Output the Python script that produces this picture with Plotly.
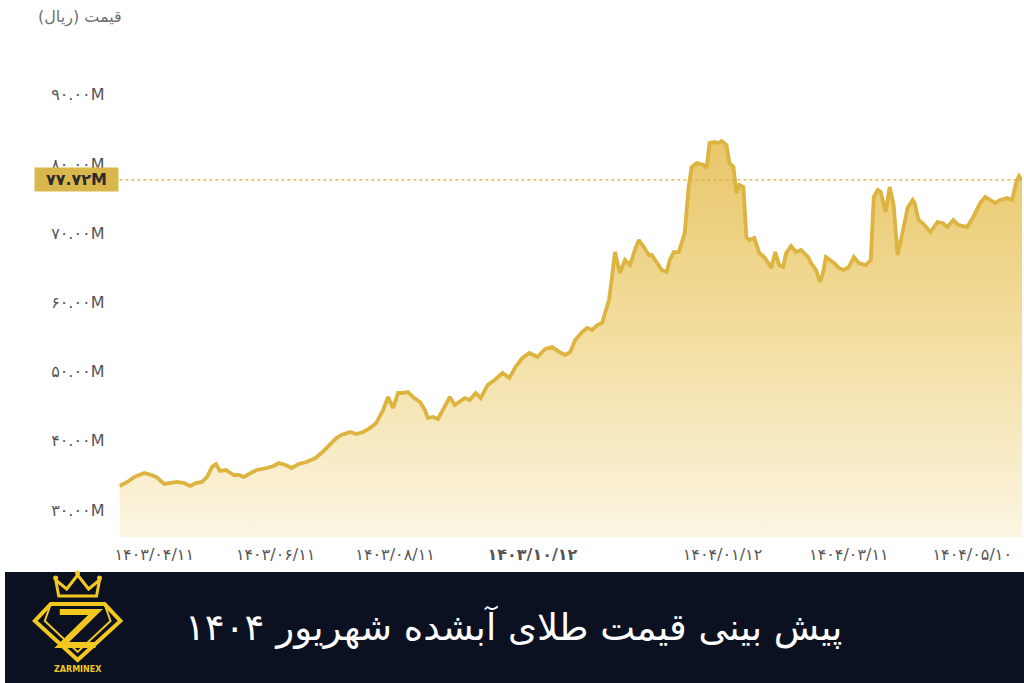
import plotly.graph_objects as go

# ---- data (price in million rials, x = position index along the time axis) ----
x_idx = [0, 4, 7.5, 12.5, 16, 18.5, 22.5, 26, 29, 32.5, 35.5, 38.5, 41.5, 44, 46.5, 48.5, 50.5, 53.5,
         56, 57.5, 60, 62.5, 66, 69, 74, 77.5, 80, 83.5, 86.5, 90, 94, 98.5, 101.5, 104, 106.5, 109,
         111.5, 116, 119, 122.5, 126, 129, 132.5, 135, 137.5, 140, 142.5, 145, 147.5, 151, 153.5, 155,
         157.5, 160, 162.5, 166, 168.5, 171, 173.5, 176, 179, 181.5, 185, 188.5, 192.5, 196, 199, 202.5,
         206, 210, 214, 217.5, 221, 224, 226.5, 229, 232.5, 235, 237.5, 240, 242.5, 244, 246, 247.5,
         249, 250.5, 251.5, 254, 256.5, 259, 261, 263.5, 266, 267.5, 270, 272.5, 275, 276.5, 278.5,
         281, 282.5, 284, 286, 287.5, 290, 293.5, 295, 296.5, 299, 301, 302.5, 305, 306.5, 308.5, 310,
         311.5, 313.5, 315, 316.5, 319, 321.5, 324, 326, 327.5, 329.5, 331.5, 333.5, 335, 337.5, 340,
         342.5, 344, 346, 347.5, 350, 352, 353.5, 355, 357, 359, 361.5, 364, 366.5, 369, 371.5, 375,
         377.5, 379, 381, 382.5, 385, 387, 389, 391, 393.5, 396, 398.5, 399.5, 401.5, 403.5, 407.5,
         411, 413.5, 416, 419, 421.5, 426, 429, 432.5, 435, 437.5, 440, 442.5, 446, 448.5, 450.5,
         452, 453.5]
price_m = [33.47, 34.05, 34.77, 35.35, 35.06, 34.77, 33.76, 33.90, 34.05, 33.90, 33.47, 33.90, 34.05,
           34.77, 36.21, 36.65, 35.64, 35.78, 35.35, 35.06, 35.06, 34.77, 35.35, 35.78, 36.07, 36.36,
           36.79, 36.50, 36.07, 36.65, 36.94, 37.51, 38.24, 38.96, 39.83, 40.40, 40.84, 41.27, 40.98,
           41.27, 41.85, 42.57, 44.45, 46.33, 44.74, 46.91, 46.91, 47.05, 46.33, 45.61, 44.45, 43.29,
           43.44, 43.15, 44.45, 46.33, 45.17, 45.61, 46.18, 45.90, 46.91, 46.18, 48.06, 48.79, 49.80,
           49.08, 50.66, 51.97, 52.69, 52.11, 53.27, 53.55, 52.83, 52.40, 52.83, 54.57, 55.72, 56.30,
           56.01, 56.73, 57.02, 58.47, 60.35, 63.67, 67.28, 65.40, 64.25, 66.13, 65.40, 67.57, 69.02,
           68.01, 66.85, 66.85, 65.69, 64.68, 64.39, 66.13, 67.28, 67.28, 68.60, 70.03, 76.68, 79.57,
           80.14, 79.86, 79.42, 83.03, 83.18, 83.03, 83.32, 82.75, 80.14, 79.57, 75.81, 76.97, 76.68,
           69.45, 69.02, 69.31, 67.14, 66.56, 65.69, 64.97, 67.28, 65.40, 65.12, 67.14, 68.15, 67.28,
           67.57, 67.14, 66.56, 65.69, 64.68, 62.95, 64.25, 66.56, 66.13, 65.69, 64.97, 64.68, 65.12,
           66.56, 65.69, 65.40, 66.13, 75.23, 76.24, 75.95, 73.06, 76.68, 74.08, 66.85, 70.17, 73.64,
           74.80, 74.36, 71.91, 71.47, 70.17, 71.62, 71.47, 70.90, 71.91, 71.18, 70.90, 72.34, 74.36,
           75.23, 74.80, 74.36, 74.80, 75.09, 74.80, 77.25, 78.27, 77.72]

last_price = 77.72
last_label = "۷۷.۷۲M"

x_tick_pos = [17.5, 78.5, 138.5, 207.5, 303, 366.5, 428.5]
x_tick_text = ["۱۴۰۳/۰۴/۱۱", "۱۴۰۳/۰۶/۱۱", "۱۴۰۳/۰۸/۱۱", "<b>۱۴۰۳/۱۰/۱۲</b>",
               "۱۴۰۴/۰۱/۱۲", "۱۴۰۴/۰۳/۱۱", "۱۴۰۴/۰۵/۱۰"]
y_tick_pos = [30, 40, 50, 60, 70, 80, 90]
y_tick_text = ["۳۰.۰۰M", "۴۰.۰۰M", "۵۰.۰۰M", "۶۰.۰۰M", "۷۰.۰۰M", "۸۰.۰۰M", "۹۰.۰۰M"]

y_title = "قیمت (ریال)\u200f"
banner_title = "پیش بینی قیمت طلای آبشده شهریور ۱۴۰۴"
brand = "ZARMINEX"

W, H = 1024, 683
FONT = "DejaVu Sans"

def P(px, py):
    """screen pixel -> paper fraction (decoration only)"""
    return px / W, 1 - py / H

fig = go.Figure()
fig.add_trace(go.Scatter(
    x=x_idx, y=price_m, mode="lines",
    line=dict(color="#dcb43f", width=3.8, shape="linear"),
    fill="tozeroy",
    fillgradient=dict(type="vertical", start=26.1, stop=84,
                      colorscale=[[0, "rgb(251,245,226)"], [0.5, "rgb(243,222,160)"],
                                  [1, "rgb(232,198,104)"]]),
    hoverinfo="skip", showlegend=False,
))

shapes = []
shapes.append(dict(type="line", xref="x domain", yref="y", x0=0, x1=1, y0=last_price, y1=last_price,
                   line=dict(color="#d4ad45", width=1.3, dash="dot"), layer="above"))
bx0, by0 = P(0, 572)
bx1, by1 = P(W, H)
shapes.append(dict(type="rect", xref="paper", yref="paper", x0=bx0, y0=by1, x1=bx1, y1=by0,
                   fillcolor="#0b1120", line=dict(width=0), layer="above"))

def path(points, close=True):
    s = ""
    for i, (a, b) in enumerate(points):
        px_, py_ = P(a, b)
        s += ("M" if i == 0 else "L") + f"{px_:.5f},{py_:.5f} "
    if close:
        s += "Z"
    return s

gold = "#f2c81f"
shapes.append(dict(type="path", xref="paper", yref="paper",
                   path=path([(54, 596), (51, 580), (62, 589), (73, 575), (84, 589), (95, 580), (92, 596)]),
                   line=dict(color=gold, width=3), fillcolor="rgba(0,0,0,0)", layer="above"))
for cx, cy in [(51, 578), (73, 573), (95, 578)]:
    a0, b0 = P(cx - 2.5, cy + 2.5)
    a1, b1 = P(cx + 2.5, cy - 2.5)
    shapes.append(dict(type="circle", xref="paper", yref="paper", x0=a0, y0=b0, x1=a1, y1=b1,
                       fillcolor=gold, line=dict(width=0), layer="above"))
shapes.append(dict(type="path", xref="paper", yref="paper",
                   path=path([(46, 604), (100, 604), (116, 621), (73, 660), (30, 621)]),
                   line=dict(color=gold, width=4), fillcolor="rgba(0,0,0,0)", layer="above"))
shapes.append(dict(type="path", xref="paper", yref="paper",
                   path=path([(46, 604), (40, 621), (73, 652), (106, 621), (100, 604)], close=False),
                   line=dict(color=gold, width=2), fillcolor="rgba(0,0,0,0)", layer="above"))
shapes.append(dict(type="path", xref="paper", yref="paper",
                   path=path([(55, 612), (91, 612), (57, 645), (91, 645)], close=False),
                   line=dict(color=gold, width=6), fillcolor="rgba(0,0,0,0)", layer="above"))

annotations = []
ax_, ay_ = P(120, 17)
annotations.append(dict(xref="paper", yref="paper", x=ax_, y=ay_, xanchor="right", yanchor="middle",
                        text=y_title, showarrow=False, font=dict(family=FONT, size=16, color="#707070")))
lx, _ = P(115, 0)
annotations.append(dict(xref="paper", yref="y", x=lx, y=last_price, xanchor="right", yanchor="middle",
                        text=f"<b>{last_label}</b>", showarrow=False, bgcolor="#d9b74c",
                        width=77, height=17, borderpad=3,
                        font=dict(family=FONT, size=16, color="#2b2b2b")))
tx, ty = P(511, 627)
annotations.append(dict(xref="paper", yref="paper", x=tx, y=ty, xanchor="center", yanchor="middle",
                        text=banner_title, showarrow=False,
                        font=dict(family=FONT, size=37, color="#ffffff")))
bxx, byy = P(73, 669)
annotations.append(dict(xref="paper", yref="paper", x=bxx, y=byy, xanchor="center", yanchor="middle",
                        text=f"<b>{brand}</b>", showarrow=False,
                        font=dict(family=FONT, size=8, color=gold)))

xd0, _ = P(115, 0)
xd1, _ = P(1022, 0)
_, yd0 = P(0, 537)
_, yd1 = P(0, 60)

fig.update_layout(
    width=W, height=H,
    margin=dict(l=0, r=0, t=0, b=0),
    paper_bgcolor="white", plot_bgcolor="white",
    xaxis=dict(domain=[xd0, xd1], range=[0, 453.5], showgrid=False, zeroline=False,
               showline=False, tickmode="array", tickvals=x_tick_pos, ticktext=x_tick_text,
               tickfont=dict(family=FONT, size=16, color="#555555"), ticks="", ticklabelstandoff=6,
               fixedrange=True),
    yaxis=dict(domain=[yd0, yd1], range=[26.1, 95.03], showgrid=False, zeroline=False,
               showline=False, tickmode="array", tickvals=y_tick_pos, ticktext=y_tick_text,
               tickfont=dict(family=FONT, size=16, color="#555555"), ticks="", ticklabelstandoff=14,
               fixedrange=True),
    shapes=shapes, annotations=annotations,
)

fig.write_html("out.html",
               config={"displayModeBar": False, "staticPlot": True},
               post_script="document.documentElement.style.margin='0';document.body.style.margin='0';"
                           "document.body.style.overflow='hidden';document.documentElement.style.overflow='hidden';")
